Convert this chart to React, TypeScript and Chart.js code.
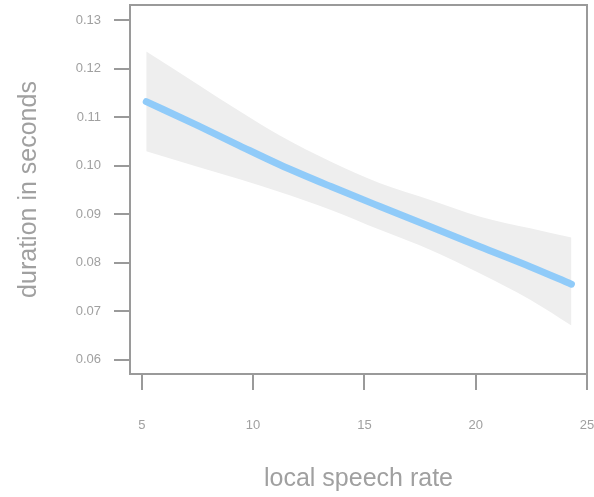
import React, { useEffect, useRef } from "react";
import { Chart, registerables } from "chart.js";

Chart.register(...registerables);

const xValues = [5.2, 7.5, 9.4, 11.2, 13.5, 15.7, 18.0, 20.2, 22.45, 24.3];
const fitValues = [0.1132, 0.1083, 0.1041, 0.1002, 0.0957, 0.0916, 0.0874, 0.0833, 0.0792, 0.0756];
const upperValues = [0.1235, 0.1168, 0.1112, 0.1062, 0.1008, 0.0964, 0.0929, 0.0895, 0.0871, 0.0852];
const lowerValues = [0.103, 0.0998, 0.0972, 0.0946, 0.0909, 0.0868, 0.0826, 0.0778, 0.0724, 0.0671];
const xTicks = [5, 10, 15, 20, 25];
const yTicks = [0.06, 0.07, 0.08, 0.09, 0.1, 0.11, 0.12, 0.13];

const AXIS_GRAY = "#9a9a9a";
const TEXT_GRAY = "#a0a0a0";
const FONT = "'Liberation Sans', Arial, sans-serif";

const boxPlugin = {
  id: "boxPlugin",
  afterDraw(chart: any) {
    const { ctx, chartArea } = chart;
    ctx.save();
    ctx.strokeStyle = AXIS_GRAY;
    ctx.lineWidth = 2;
    ctx.strokeRect(chartArea.left, chartArea.top, chartArea.right - chartArea.left, chartArea.bottom - chartArea.top);
    ctx.restore();
  },
};

export default function App() {
  const ref = useRef<HTMLCanvasElement | null>(null);
  useEffect(() => {
    if (!ref.current) return;
    const pts = (ys: number[]) => xValues.map((x, i) => ({ x, y: ys[i] }));
    const chart = new Chart(ref.current, {
      type: "line",
      data: {
        datasets: [
          {
            label: "fit",
            data: pts(fitValues),
            borderColor: "#90cbf9",
            borderWidth: 7,
            borderCapStyle: "round",
            borderJoinStyle: "round",
            pointRadius: 0,
            fill: false,
            cubicInterpolationMode: "monotone",
            order: 0,
          },
          {
            label: "lower",
            data: pts(lowerValues),
            borderWidth: 0,
            borderColor: "rgba(0,0,0,0)",
            pointRadius: 0,
            fill: false,
            cubicInterpolationMode: "monotone",
            order: 2,
          },
          {
            label: "upper",
            data: pts(upperValues),
            borderWidth: 0,
            borderColor: "rgba(0,0,0,0)",
            backgroundColor: "#eeeeee",
            pointRadius: 0,
            fill: "-1",
            cubicInterpolationMode: "monotone",
            order: 1,
          },
        ],
      },
      options: {
        animation: false,
        responsive: false,
        maintainAspectRatio: false,
        layout: { padding: { left: 0, top: 5, right: 7, bottom: 0 } },
        plugins: { legend: { display: false }, tooltip: { enabled: false } },
        scales: {
          x: {
            type: "linear",
            min: 4.47,
            max: 25,
            afterBuildTicks: (s: any) => {
              s.ticks = xTicks.map((v) => ({ value: v }));
            },
            afterFit: (s: any) => {
              s.height = 123;
              s.paddingLeft = 0;
              s.paddingRight = 0;
            },
            border: { display: false },
            grid: { display: true, drawOnChartArea: false, drawTicks: true, tickLength: 16, color: AXIS_GRAY, lineWidth: 2 },
            ticks: { color: TEXT_GRAY, font: { family: FONT, size: 13 }, padding: 28, maxRotation: 0 },
            title: { display: true, text: "local speech rate", color: TEXT_GRAY, font: { family: FONT, size: 25 }, padding: { top: 0, bottom: 3 } },
          },
          y: {
            type: "linear",
            min: 0.0571,
            max: 0.1331,
            afterBuildTicks: (s: any) => {
              s.ticks = yTicks.map((v) => ({ value: v }));
            },
            afterFit: (s: any) => {
              s.width = 130;
              s.paddingTop = 0;
              s.paddingBottom = 0;
            },
            border: { display: false },
            grid: { display: true, drawOnChartArea: false, drawTicks: true, tickLength: 16, color: AXIS_GRAY, lineWidth: 2 },
            ticks: {
              color: TEXT_GRAY,
              font: { family: FONT, size: 13 },
              padding: 13,
              callback: (v: any) => Number(v).toFixed(2),
            },
            title: { display: true, text: "duration in seconds", color: TEXT_GRAY, font: { family: FONT, size: 25 }, padding: { top: 14, bottom: 0 } },
          },
        },
      },
      plugins: [boxPlugin],
    });
    return () => chart.destroy();
  }, []);
  return (
    <div style={{ position: "absolute", left: 0, top: 0, width: 594, height: 497 }}>
      <canvas ref={ref} width={594} height={497} style={{ display: "block", width: 594, height: 497 }} />
    </div>
  );
}
